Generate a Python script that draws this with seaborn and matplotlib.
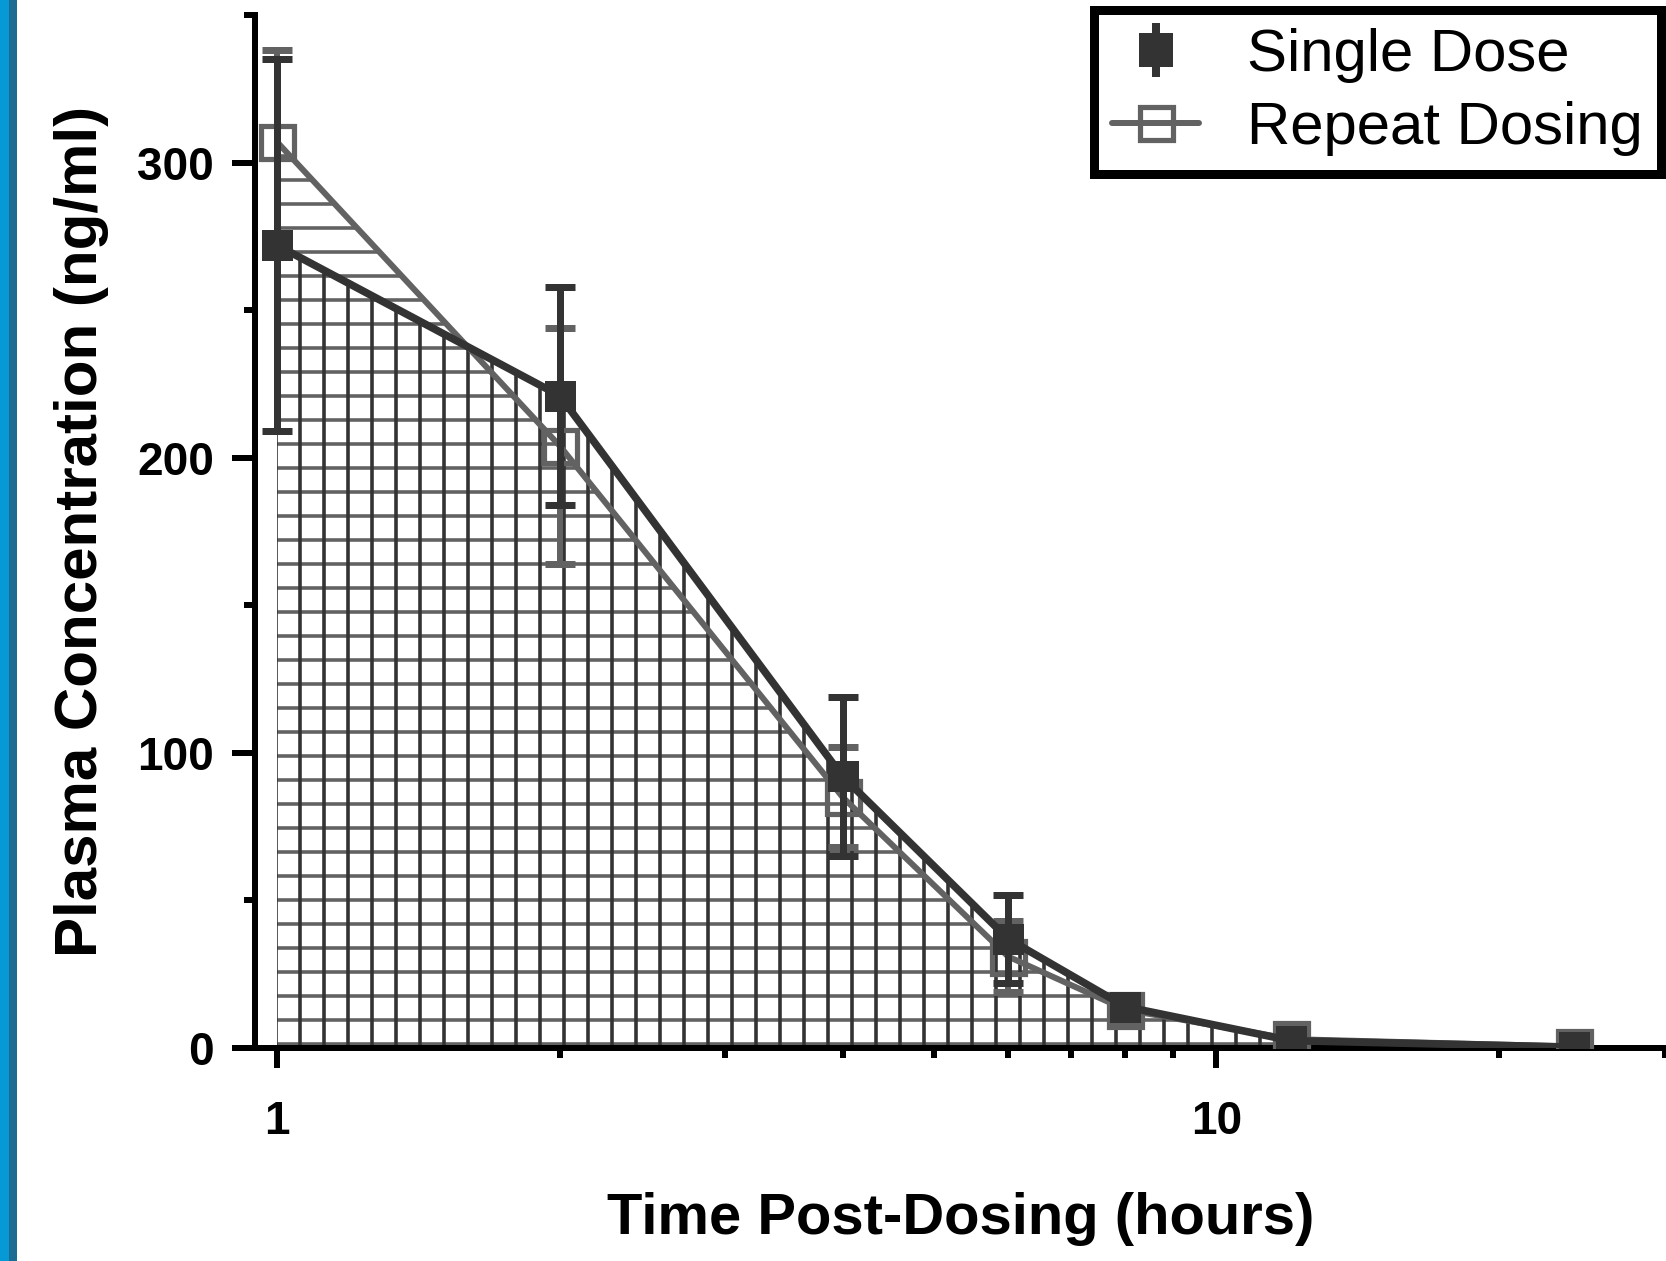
import numpy as np
import pandas as pd
import seaborn as sns
import matplotlib.pyplot as plt
from matplotlib.lines import Line2D
from matplotlib.patches import Rectangle
from matplotlib.ticker import FixedLocator, FixedFormatter, NullFormatter
from matplotlib.legend_handler import HandlerTuple

# data
hours = [1, 2, 4, 6, 8, 12, 24]
single_mean = [272, 221, 92, 37, 14, 2.5, 0.3]
single_sd = [63, 37, 27, 15, 4, 1, 0]
repeat_mean = [307, 204, 85, 31, 13, 3, 0.5]
repeat_sd = [31, 40, 17, 12, 4, 1, 0]

x_major = [1, 10]
x_major_labels = ["1", "10"]
x_minor = [2, 3, 4, 5, 6, 7, 8, 9, 20, 30]
y_major = [0, 100, 200, 300]
y_minor = [50, 150, 250, 350]

DARK = "#333333"
GREY = "#626262"

sns.set_style("ticks")
plt.rcParams["font.family"] = ["Liberation Sans", "DejaVu Sans"]
plt.rcParams["font.weight"] = "bold"
plt.rcParams["text.color"] = "black"
plt.rcParams["axes.labelcolor"] = "black"
plt.rcParams["xtick.color"] = "black"
plt.rcParams["ytick.color"] = "black"
plt.rcParams["hatch.linewidth"] = 1.8

df = pd.DataFrame({
    "hours": hours * 2,
    "conc": single_mean + repeat_mean,
    "group": ["Single Dose"] * len(hours) + ["Repeat Dosing"] * len(hours),
})

fig = plt.figure(figsize=(1666 / 144, 1261 / 144), dpi=144)
ax = fig.add_axes([255 / 1666, 213 / 1261, 1 - 255 / 1666, 1033 / 1261])

# hatched areas under the curves
ax.fill_between(hours, 0, repeat_mean, facecolor="none", edgecolor=GREY,
                hatch="-", linewidth=0, zorder=1)
ax.fill_between(hours, 0, single_mean, facecolor="none", edgecolor=DARK,
                hatch="|", linewidth=0, zorder=1.5)

rep = df[df["group"] == "Repeat Dosing"]
sgl = df[df["group"] == "Single Dose"]

sns.lineplot(data=rep, x="hours", y="conc", ax=ax, color=GREY, lw=3,
             marker="s", markersize=16.5, markerfacecolor="none",
             markeredgecolor=GREY, markeredgewidth=2.6, errorbar=None, zorder=3)
ax.errorbar(hours, repeat_mean, yerr=repeat_sd, fmt="none", ecolor=GREY,
            elinewidth=3, capsize=7.5, capthick=3.5, zorder=3.5)
ax.errorbar(hours, single_mean, yerr=single_sd, fmt="none", ecolor=DARK,
            elinewidth=3.5, capsize=7.5, capthick=3.5, zorder=4)
sns.lineplot(data=sgl, x="hours", y="conc", ax=ax, color=DARK, lw=3.8,
             marker="s", markersize=15.5, markerfacecolor=DARK,
             markeredgecolor=DARK, markeredgewidth=0, errorbar=None, zorder=5)

ax.set_xscale("log")
ax.set_xlim(0.9475, 30.1)
ax.set_ylim(0, 350)
ax.xaxis.set_major_locator(FixedLocator(x_major))
ax.xaxis.set_major_formatter(FixedFormatter(x_major_labels))
ax.xaxis.set_minor_locator(FixedLocator(x_minor))
ax.xaxis.set_minor_formatter(NullFormatter())
ax.yaxis.set_major_locator(FixedLocator(y_major))
ax.yaxis.set_minor_locator(FixedLocator(y_minor))

ax.tick_params(axis="both", which="both", direction="out", width=3)
ax.tick_params(axis="y", which="major", length=11.5, pad=9, labelsize=23)
ax.tick_params(axis="y", which="minor", length=5.5)
ax.tick_params(axis="x", which="major", length=10, pad=16, labelsize=23)
ax.tick_params(axis="x", which="minor", length=5)

sns.despine(ax=ax)
for side in ["left", "bottom"]:
    ax.spines[side].set_linewidth(3)
    ax.spines[side].set_color("black")

ax.set_xlabel("Time Post-Dosing (hours)", fontsize=29, fontweight="bold", labelpad=24)
ax.set_ylabel("Plasma Concentration (ng/ml)", fontsize=30, fontweight="bold", labelpad=14)

# legend
h_single = (Line2D([], [], color=DARK, marker="|", linestyle="none",
                   markersize=27, markeredgewidth=4),
            Line2D([], [], color=DARK, marker="s", linestyle="none", markersize=16))
h_repeat = Line2D([], [], color=GREY, lw=3, marker="s", markersize=16.5,
                  markerfacecolor="none", markeredgewidth=2.6)
leg = fig.legend([h_single, h_repeat], ["Single Dose", "Repeat Dosing"],
                 loc="upper left", bbox_to_anchor=(1094 / 1666, 1 - 10 / 1261),
                 handler_map={tuple: HandlerTuple(ndivide=1)},
                 prop={"size": 30, "weight": "normal"}, frameon=True,
                 fancybox=False, framealpha=1, edgecolor="black",
                 handlelength=1.45, handletextpad=0.8, labelspacing=0.3,
                 borderpad=0.3, borderaxespad=0)
leg.get_frame().set_linewidth(4.5)

# blue strip on the left edge
fig.add_artist(Rectangle((0, 0), 10 / 1666, 1, transform=fig.transFigure,
                         color="#0799d6", zorder=10))
fig.add_artist(Rectangle((10 / 1666, 0), 6 / 1666, 1, transform=fig.transFigure,
                         color="#1b6b92", zorder=10))

fig.savefig("out.png", dpi=144)
